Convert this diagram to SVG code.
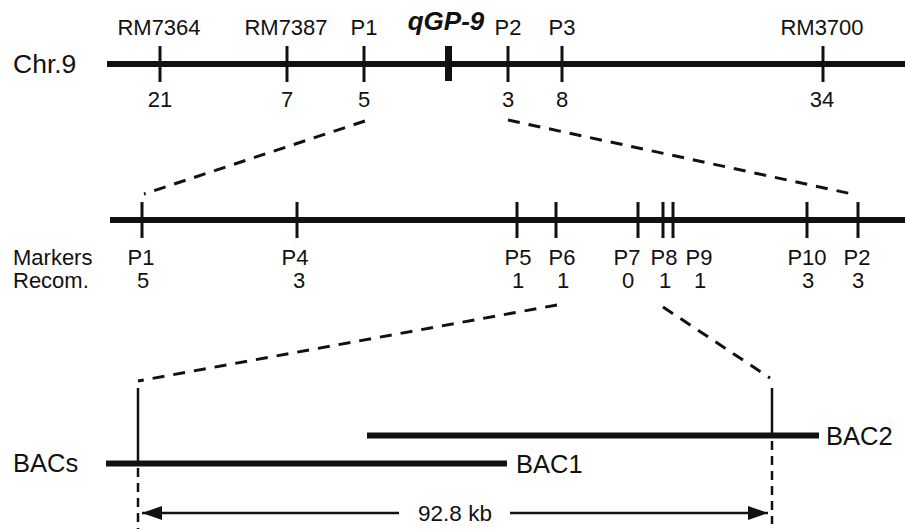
<svg xmlns="http://www.w3.org/2000/svg" width="905" height="529" viewBox="0 0 905 529">
<style>
text{font-family:"Liberation Sans",Arial,sans-serif;fill:#111;}
.lab{font-size:22px;text-anchor:middle;}
.row{font-size:22px;}
.big{font-size:25.5px;}
.bar{stroke:#111;stroke-width:6;fill:none;}
.tick{stroke:#111;stroke-width:3;fill:none;}
.dash{stroke:#111;stroke-width:3;fill:none;stroke-dasharray:12 9;}
.vdash{stroke:#111;stroke-width:2.5;fill:none;stroke-dasharray:9 6;}
.vline{stroke:#111;stroke-width:2.5;fill:none;}
.arr{stroke:#111;stroke-width:2.5;fill:none;}
</style>
<defs>
<marker id="ah2" viewBox="0 0 20 14" refX="20" refY="7" markerWidth="20" markerHeight="14" orient="auto" markerUnits="userSpaceOnUse">
<path d="M0,0 L20,7 L0,14 Z" fill="#111"/>
</marker>
</defs>

<g id="chr9">
<text class="big" x="13" y="73" style="font-size:26.5px">Chr.9</text>
<line class="bar" x1="107" y1="64" x2="905" y2="64"/>
<line class="tick" x1="160" y1="46" x2="160" y2="82"/>
<line class="tick" x1="287" y1="46" x2="287" y2="82"/>
<line class="tick" x1="364" y1="46" x2="364" y2="82"/>
<line x1="448.5" y1="46" x2="448.5" y2="81" stroke="#111" stroke-width="7"/>
<line class="tick" x1="508" y1="46" x2="508" y2="82"/>
<line class="tick" x1="562" y1="46" x2="562" y2="82"/>
<line class="tick" x1="823" y1="46" x2="823" y2="82"/>
<text class="lab" x="159" y="35">RM7364</text>
<text class="lab" x="286" y="35">RM7387</text>
<text class="lab" x="364" y="35">P1</text>
<text x="446" y="30" style="font-size:26px;font-weight:bold;font-style:italic;text-anchor:middle">qGP-9</text>
<text class="lab" x="508" y="35">P2</text>
<text class="lab" x="562" y="35">P3</text>
<text class="lab" x="822" y="35">RM3700</text>
<text class="lab" x="160" y="107">21</text>
<text class="lab" x="287" y="107">7</text>
<text class="lab" x="364" y="107">5</text>
<text class="lab" x="508" y="107">3</text>
<text class="lab" x="562" y="107">8</text>
<text class="lab" x="822" y="107">34</text>
</g>

<g id="fine-map">
<line class="bar" x1="110" y1="220" x2="905" y2="220"/>
<line class="tick" x1="142" y1="202" x2="142" y2="238"/>
<line class="tick" x1="297" y1="202" x2="297" y2="238"/>
<line class="tick" x1="517" y1="202" x2="517" y2="238"/>
<line class="tick" x1="556" y1="202" x2="556" y2="238"/>
<line class="tick" x1="638" y1="202" x2="638" y2="238"/>
<line class="tick" x1="663" y1="202" x2="663" y2="238"/>
<line class="tick" x1="673" y1="202" x2="673" y2="238"/>
<line class="tick" x1="807" y1="202" x2="807" y2="238"/>
<line class="tick" x1="858" y1="202" x2="858" y2="238"/>
<text class="row" x="13" y="265">Markers</text>
<text class="row" x="13" y="288">Recom.</text>
<text class="lab" x="141" y="265">P1</text>
<text class="lab" x="295" y="265">P4</text>
<text class="lab" x="518" y="265">P5</text>
<text class="lab" x="562" y="265">P6</text>
<text class="lab" x="627" y="265">P7</text>
<text class="lab" x="664" y="265">P8</text>
<text class="lab" x="699" y="265">P9</text>
<text class="lab" x="807" y="265">P10</text>
<text class="lab" x="857" y="265">P2</text>
<text class="lab" x="143" y="288">5</text>
<text class="lab" x="299" y="288">3</text>
<text class="lab" x="518" y="288">1</text>
<text class="lab" x="563" y="288">1</text>
<text class="lab" x="628" y="288">0</text>
<text class="lab" x="665" y="288">1</text>
<text class="lab" x="700" y="288">1</text>
<text class="lab" x="808" y="288">3</text>
<text class="lab" x="858" y="288">3</text>
</g>

<g id="bacs">
<text class="big" x="13" y="472">BACs</text>
<line class="bar" x1="106" y1="463.5" x2="507" y2="463.5"/>
<text class="big" x="516" y="473">BAC1</text>
<line class="bar" x1="367" y1="435.5" x2="819" y2="435.5"/>
<text class="big" x="826" y="445">BAC2</text>
</g>

<g id="connectors">
<line class="dash" x1="365" y1="121" x2="144" y2="194"/>
<line class="dash" x1="508" y1="120" x2="857" y2="195"/>
<line class="dash" x1="557" y1="305" x2="138" y2="381"/>
<line class="dash" x1="663" y1="307" x2="770" y2="378"/>
<line class="vline" x1="138" y1="388" x2="138" y2="463"/>
<line class="vdash" x1="138" y1="468" x2="138" y2="529"/>
<line class="vline" x1="772" y1="388" x2="772" y2="435"/>
<line class="vdash" x1="772" y1="441" x2="772" y2="524"/>
<line class="arr" x1="399" y1="513" x2="142" y2="513" marker-end="url(#ah2)"/>
<line class="arr" x1="510" y1="513" x2="768" y2="513" marker-end="url(#ah2)"/>
<text x="455" y="521" style="font-size:22.5px;text-anchor:middle">92.8 kb</text>
</g>
</svg>
